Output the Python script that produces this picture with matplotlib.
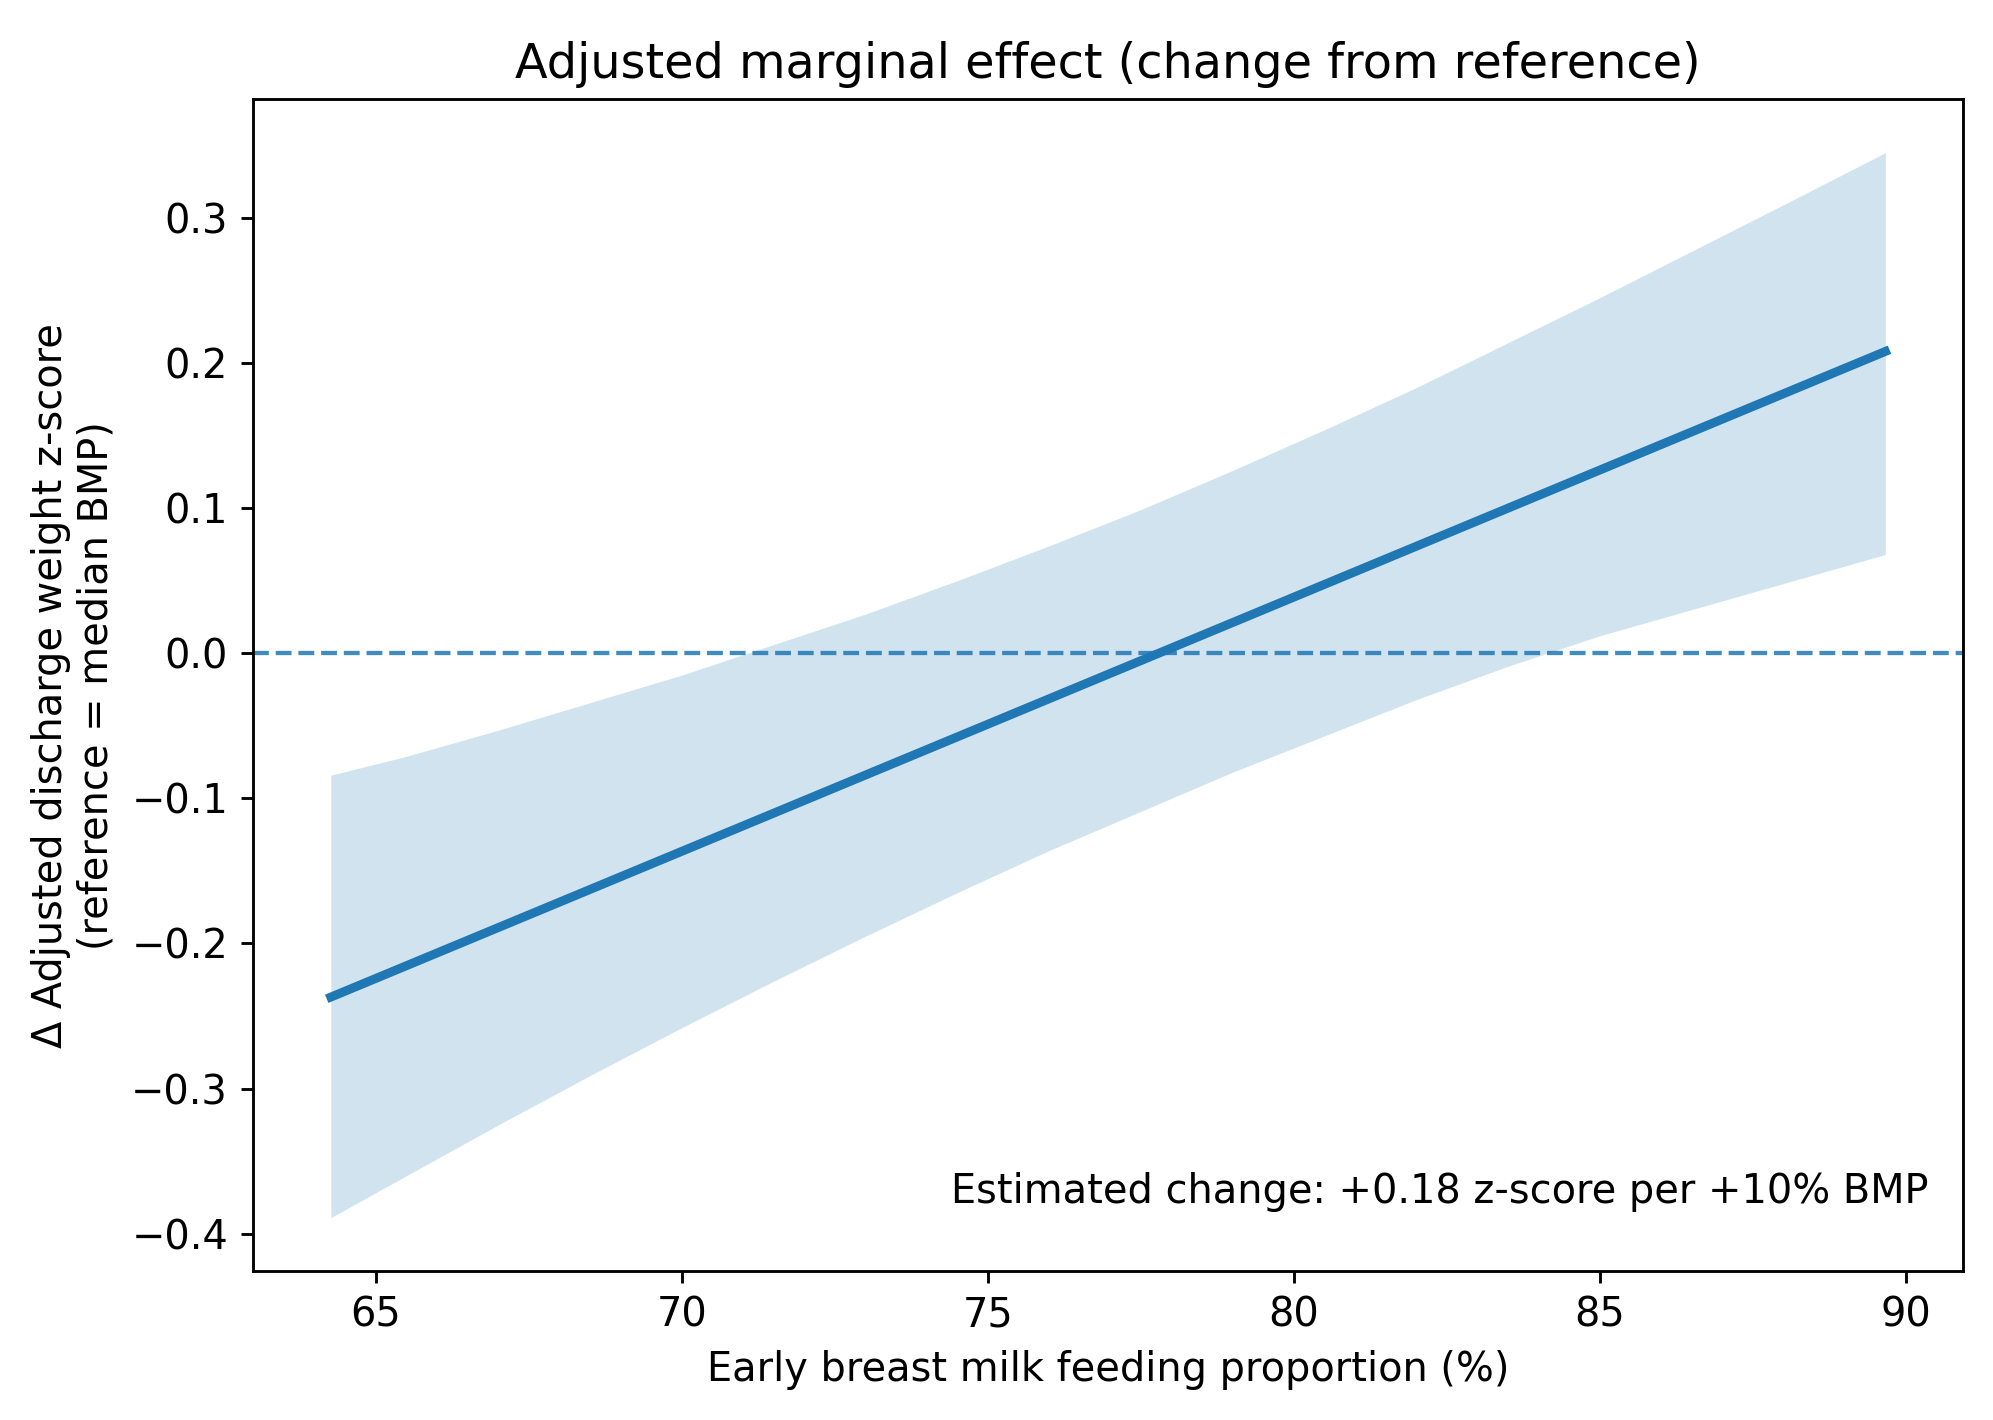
import numpy as np
import matplotlib.pyplot as plt

# fitted line (endpoints of the observed BMP range)
bmp_line = np.array([64.26, 89.67])
effect_line = np.array([-0.237, 0.208])

# 95% band
bmp_band = np.array([64.26, 65.5, 67.0, 68.5, 70.0, 71.5, 73.0, 74.5, 76.0, 77.5,
                     79.0, 80.5, 82.0, 83.5, 85.0, 86.5, 88.0, 89.67])
band_upper = np.array([-0.084, -0.071, -0.053, -0.034, -0.015, 0.006, 0.027, 0.050, 0.074, 0.099,
                       0.126, 0.154, 0.183, 0.214, 0.245, 0.277, 0.309, 0.345])
band_lower = np.array([-0.389, -0.360, -0.325, -0.291, -0.258, -0.226, -0.195, -0.165, -0.136, -0.109,
                       -0.082, -0.057, -0.032, -0.009, 0.012, 0.030, 0.048, 0.068])

note = "Estimated change: +0.18 z-score per +10% BMP"

plt.rcParams['font.size'] = 11.2
plt.rcParams['axes.titlesize'] = 13.4

dpi = 257
fig, ax = plt.subplots(figsize=(1993 / dpi, 1420 / dpi), dpi=dpi)
fig.subplots_adjust(left=0.127, right=0.985, bottom=0.105, top=0.930)

ax.fill_between(bmp_band, band_lower, band_upper, color='tab:blue', alpha=0.2, linewidth=0)
ax.plot(bmp_line, effect_line, color='tab:blue', linewidth=2.5)
ax.axhline(0, color='tab:blue', linestyle='--', linewidth=1.2, alpha=0.85)

ax.set_title('Adjusted marginal effect (change from reference)')
ax.set_xlabel('Early breast milk feeding proportion (%)')
ax.set_ylabel('Δ Adjusted discharge weight z-score\n(reference = median BMP)')
ax.text(0.98, 0.05, note, transform=ax.transAxes, ha='right', va='bottom')

fig.savefig('out.png', dpi=dpi)
